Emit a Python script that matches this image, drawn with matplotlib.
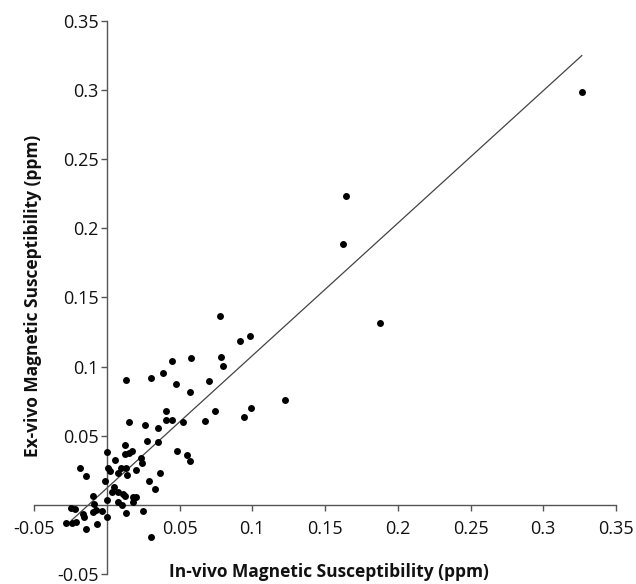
import numpy as np
import matplotlib.pyplot as plt

plt.rcParams['font.family'] = ['Open Sans', 'DejaVu Sans']

# in-vivo vs ex-vivo susceptibility (ppm), one entry per region
in_vivo = [0.0776, 0.0984, 0.0915, 0.0449, 0.0581, 0.0788, 0.0799, 0.0389, 0.0307, 0.0134,
           0.0474, 0.0706, 0.0569, 0.1223, 0.0993, 0.0940, 0.0747, 0.0676, 0.0405, 0.0405,
           0.0446, 0.0521, 0.0150, 0.0264, 0.0351, 0.0278, 0.0355, 0.0480, 0.0549, 0.0571,
           0.0123, 0.0000, 0.0123, 0.0153, 0.0173, 0.0055, 0.0232, 0.0241, -0.0184, -0.0146,
           0.0007, 0.0025, 0.0100, 0.0132, 0.0203, 0.0077, 0.0141, 0.0364, -0.0011, 0.0289,
           0.0335, 0.0052, 0.0036, 0.0075, 0.0114, 0.0123, 0.0178, 0.0198, -0.0093, 0.0000,
           0.0077, 0.0107, 0.0178, -0.0087, -0.0075, -0.0036, -0.0246, -0.0221, -0.0166, -0.0153,
           -0.0093, 0.0005, 0.0134, 0.0246, -0.0280, -0.0237, -0.0209, -0.0146, -0.0068, 0.0301,
           0.1644, 0.1624, 0.3263, 0.1876]
ex_vivo = [0.1367, 0.1218, 0.1185, 0.1041, 0.1058, 0.1067, 0.1002, 0.0954, 0.0918, 0.0899,
           0.0870, 0.0892, 0.0815, 0.0755, 0.0700, 0.0638, 0.0676, 0.0607, 0.0676, 0.0616,
           0.0616, 0.0597, 0.0600, 0.0578, 0.0556, 0.0463, 0.0456, 0.0386, 0.0360, 0.0319,
           0.0432, 0.0384, 0.0369, 0.0372, 0.0388, 0.0324, 0.0341, 0.0300, 0.0266, 0.0209,
           0.0264, 0.0245, 0.0269, 0.0264, 0.0252, 0.0228, 0.0216, 0.0228, 0.0170, 0.0175,
           0.0115, 0.0132, 0.0096, 0.0091, 0.0079, 0.0067, 0.0055, 0.0060, 0.0067, 0.0034,
           0.0024, 0.0000, 0.0017, 0.0007, -0.0038, -0.0041, -0.0026, -0.0031, -0.0067, -0.0089,
           -0.0050, -0.0089, -0.0058, -0.0043, -0.0129, -0.0134, -0.0125, -0.0175, -0.0141, -0.0230,
           0.2235, 0.1883, 0.2983, 0.1314]

# linear trend line
slope = 0.958
intercept = 0.012
fit_range = [-0.024, 0.3265]

x_ticks = [-0.05, 0.05, 0.1, 0.15, 0.2, 0.25, 0.3, 0.35]
x_labels = ['-0.05', '0.05', '0.1', '0.15', '0.2', '0.25', '0.3', '0.35']
y_ticks = [-0.05, 0.05, 0.1, 0.15, 0.2, 0.25, 0.3, 0.35]
y_labels = ['-0.05', '0.05', '0.1', '0.15', '0.2', '0.25', '0.3', '0.35']

fig = plt.figure(figsize=(6.36, 5.84), dpi=100)
ax = fig.add_axes([34 / 636, 10 / 584, 582 / 636, 553.3 / 584])

ax.plot(in_vivo, ex_vivo, 'o', color='black', markersize=5, markeredgewidth=0, zorder=3)
fx = np.array(fit_range)
ax.plot(fx, slope * fx + intercept, color='#444444', linewidth=0.9, zorder=2)

ax.set_xlim(-0.05, 0.35)
ax.set_ylim(-0.05, 0.35)

for side in ['top', 'right']:
    ax.spines[side].set_visible(False)
ax.spines['left'].set_position(('data', 0))
ax.spines['bottom'].set_position(('data', 0))
for side in ['left', 'bottom']:
    ax.spines[side].set_color('#555555')
    ax.spines[side].set_linewidth(1.0)

ax.set_xticks(x_ticks)
ax.set_xticklabels(x_labels)
ax.set_yticks(y_ticks)
ax.set_yticklabels(y_labels)
ax.tick_params(axis='both', direction='out', length=4, width=1.0, color='#555555',
               labelsize=13, labelcolor='#111111')
ax.tick_params(axis='x', pad=7)
ax.tick_params(axis='y', pad=2)

fig.text(33 / 636, 1 - 296 / 584, 'Ex-vivo Magnetic Susceptibility (ppm)', rotation=90,
         ha='center', va='center', fontsize=12.5, fontweight='bold', color='#111111')
fig.text(328.5 / 636, 1 - 572 / 584, 'In-vivo Magnetic Susceptibility (ppm)',
         ha='center', va='center', fontsize=12.5, fontweight='bold', color='#111111')

fig.savefig('out.png', dpi=100)
